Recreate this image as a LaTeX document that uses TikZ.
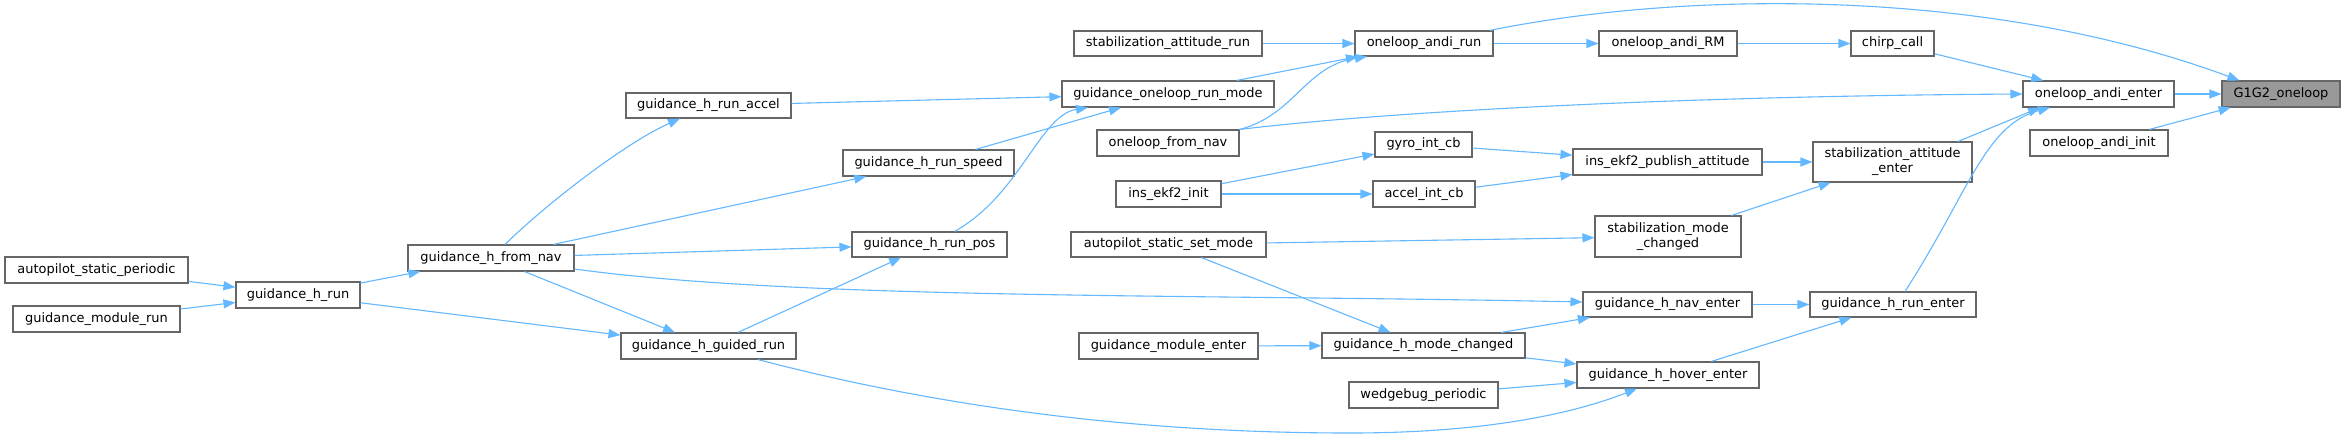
\documentclass[tikz,border=0pt]{standalone}
\usepackage{fontspec}
\setmainfont{DejaVu Sans}
\usetikzlibrary{arrows.meta}
\definecolor{edgeblue}{HTML}{63B8FF}
\definecolor{boxline}{HTML}{666666}
\definecolor{rootfill}{HTML}{999999}
\tikzset{
  box/.style={draw=boxline, line width=1.1pt, fill=white, inner sep=0pt, align=center,
    font=\fontsize{12.95}{15}\selectfont, text=black},
  rootbox/.style={box, fill=rootfill},
  arr/.style={draw=edgeblue, line width=1.1pt, -{Triangle[length=12pt,width=9pt]}}
}
\newcommand\gnode[7][box]{\node[#1, minimum width={#5pt-#3pt}, minimum height={#6pt-#4pt}] (#2) at ({(#3+#5)/2},{(#4+#6)/2}) {#7};}
\begin{document}
\begin{tikzpicture}[x=1pt,y=-1pt]
\useasboundingbox[fill=white] (0,0) rectangle (2345,440);
\gnode[rootbox]{g12}{2222}{81}{2340}{107}{G1G2\_oneloop}
\gnode{ae}{2023}{81}{2174}{107}{oneloop\_andi\_enter}
\gnode{ai}{2030}{130}{2168}{156}{oneloop\_andi\_init}
\gnode{cc}{1851}{31}{1934}{56}{chirp\_call}
\gnode{rmm}{1599}{31}{1737}{56}{oneloop\_andi\_RM}
\gnode{ar}{1355}{31}{1493}{56}{oneloop\_andi\_run}
\gnode{sar}{1074}{31}{1262}{56}{stabilization\_attitude\_run}
\gnode{orm}{1062}{81}{1274}{107}{guidance\_oneloop\_run\_mode}
\gnode{ofn}{1097}{130}{1239}{156}{oneloop\_from\_nav}
\gnode{eki}{1116}{181}{1221}{207}{ins\_ekf2\_init}
\gnode{gyro}{1375}{132}{1472}{157}{gyro\_int\_cb}
\gnode{acc}{1373}{181}{1475}{207}{accel\_int\_cb}
\gnode{pub}{1573}{149}{1762}{175}{ins\_ekf2\_publish\_attitude}
\gnode{sae}{1813}{142}{1972}{182}{stabilization\_attitude\\\_enter}
\gnode{smc}{1595}{216}{1741}{257}{stabilization\_mode\\\_changed}
\gnode{asm}{1071}{232}{1266}{257}{autopilot\_static\_set\_mode}
\gnode{ne}{1583}{292}{1752}{317}{guidance\_h\_nav\_enter}
\gnode{re}{1810}{292}{1976}{317}{guidance\_h\_run\_enter}
\gnode{hmc}{1322}{333}{1525}{358}{guidance\_h\_mode\_changed}
\gnode{gme}{1079}{333}{1258}{359}{guidance\_module\_enter}
\gnode{he}{1577}{362}{1759}{388}{guidance\_h\_hover\_enter}
\gnode{wb}{1349}{382}{1498}{408}{wedgebug\_periodic}
\gnode{ra}{626}{93}{791}{118}{guidance\_h\_run\_accel}
\gnode{rs}{843}{150}{1014}{176}{guidance\_h\_run\_speed}
\gnode{rp}{852}{232}{1007}{257}{guidance\_h\_run\_pos}
\gnode{hfn}{408}{245}{574}{271}{guidance\_h\_from\_nav}
\gnode{gr}{621}{333}{796}{359}{guidance\_h\_guided\_run}
\gnode{hr}{236}{282}{360}{308}{guidance\_h\_run}
\gnode{asp}{5}{257}{188}{283}{autopilot\_static\_periodic}
\gnode{gmr}{13}{306}{180}{332}{guidance\_module\_run}
% edges
\draw[arr] (ae) -- (g12);
\draw[arr] (ai) -- (g12);
\draw[arr] ([xshift=-4pt]ar.north east) .. controls (1689,-10) and (1990,-12) .. ([xshift=18pt]g12.north west);
\draw[arr] (cc) -- (ae);
\draw[arr] (rmm) -- (cc);
\draw[arr] (ar) -- (rmm);
\draw[arr] (sar) -- (ar);
\draw[arr] (orm) -- (ar);
\draw[arr] (ofn.north east) .. controls (1295,115) and (1305,66) .. ([xshift=-57pt]ar.south);
\draw[arr] (ofn.north east) .. controls (1400,110) and (1700,96) .. (ae.west);
\draw[arr] (ra) -- (orm);
\draw[arr] (rs) -- (orm);
\draw[arr] ([xshift=25pt]rp.north) .. controls (1020,195) and (1040,115) .. ([xshift=-80pt]orm.south);
\draw[arr] ([xshift=14pt]hfn.north) .. controls (545,205) and (625,143) .. ([xshift=-28.5pt]ra.south);
\draw[arr] (hfn) -- (rs);
\draw[arr] (hfn) -- (rp);
\draw[arr] (hfn) -- (gr);
\draw[arr] ([yshift=-11pt]hfn.east) .. controls (800,300) and (1200,294) .. ([yshift=2.5pt]ne.west);
\draw[arr] (hr) -- (hfn);
\draw[arr] (hr) -- (gr);
\draw[arr] (asp) -- (hr);
\draw[arr] (gmr) -- (hr);
\draw[arr] (gr) -- (rp);
\draw[arr] ([xshift=49.5pt]gr.south) .. controls (950,410) and (1150,433) .. (1350,433) .. controls (1480,433) and (1570,415) .. ([xshift=-31pt]he.south);
\draw[arr] (gyro) -- (pub);
\draw[arr] (acc) -- (pub);
\draw[arr] (eki) -- (gyro);
\draw[arr] (eki) -- (acc);
\draw[arr] (pub) -- (sae);
\draw[arr] ([xshift=65.5pt]sae.north) -- ([xshift=-58.5pt]ae.south);
\draw[arr] (smc) -- (sae);
\draw[arr] (asm) -- (smc);
\draw[arr] (asm) -- (hmc);
\draw[arr] (gme) -- (hmc);
\draw[arr] (hmc) -- (ne);
\draw[arr] (hmc) -- (he);
\draw[arr] (wb) -- (he);
\draw[arr] (ne) -- (re);
\draw[arr] (he) -- (re);
\draw[arr] ([xshift=12pt]re.north) .. controls (1970,190) and (1985,125) .. ([xshift=-48.5pt]ae.south);
\end{tikzpicture}
\end{document}
